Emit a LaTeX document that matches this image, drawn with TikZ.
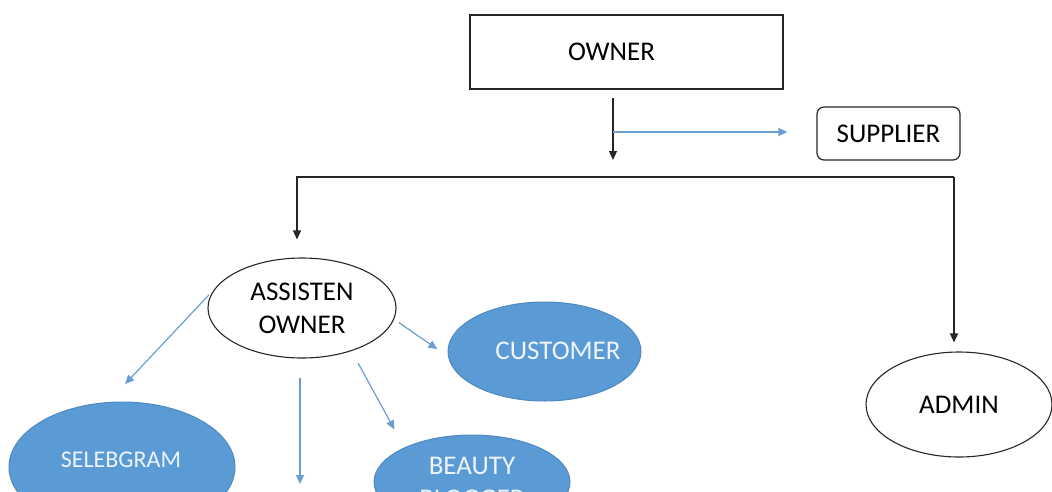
\documentclass[tikz,border=0pt]{standalone}
\usepackage{fontspec}
\setmainfont{Carlito}
\usetikzlibrary{arrows.meta,shapes.geometric}
\definecolor{obl}{HTML}{5B9BD5}
\definecolor{obord}{HTML}{4F89BF}
\definecolor{oline}{HTML}{6A9ED3}
\definecolor{otxt}{HTML}{EEF4FB}
\begin{document}
\begin{tikzpicture}[x=1pt,y=-1pt,
  txt/.style={font=\fontsize{27}{33}\selectfont, align=center, inner sep=0pt},
  ownerbox/.style={txt, draw=black!85, line width=1.2pt, minimum width=313pt, minimum height=74pt},
  supbox/.style={txt, draw=black!85, line width=1.2pt, rounded corners=7pt, minimum width=143pt, minimum height=53pt},
  whiteell/.style={txt, ellipse, draw=black!85, line width=1.1pt},
  blueell/.style={txt, ellipse, fill=obl, draw=obord, line width=1pt, text=otxt},
  btext/.style={inner sep=0pt, text=otxt},
  blackarrow/.style={draw=black!85, line width=1.2pt, -{Triangle[length=9pt,width=8pt]}},
  bluearrow/.style={draw=oline, line width=1.2pt, -{Triangle[length=9pt,width=8pt]}}]
\useasboundingbox (0,0) rectangle (1052,491);
\clip (0,0) rectangle (1052,491);

% nodes
\node[ownerbox] (owner) at (626.5,52) {OWNER\hspace{30pt}};
\node[supbox] (supplier) at (888.5,133.5) {SUPPLIER};
\node[whiteell, minimum width=188pt, minimum height=100pt] (assist) at (302,308) {ASSISTEN\\OWNER};
\node[blueell, minimum width=193pt, minimum height=99pt] (customer) at (544.5,351.5) {};
\node[btext, font=\fontsize{27}{33}\selectfont] (customertxt) at (558,351) {CUSTOMER};
\node[whiteell, minimum width=186pt, minimum height=105pt] (admin) at (959,404.5) {ADMIN};
\node[blueell, minimum width=226pt, minimum height=130pt] (selebgram) at (122,467) {};
\node[btext, font=\fontsize{24}{29}\selectfont] (selebtxt) at (121,460) {SELEBGRAM};
\node[blueell, minimum width=196pt, minimum height=94pt] (beauty) at (472,482) {BEAUTY\\BLOGGER};

% helper coordinates
\coordinate (split) at (613,160);
\coordinate (tee) at (613,132);
\coordinate (busL) at (297,177);
\coordinate (busR) at (954,177);
\coordinate (cut) at (300,484);

% black connectors
\draw[blackarrow, shorten <=8pt] (owner.south -| split) -- (split);
\draw[blackarrow, shorten >=18pt] (busR) -- (busL) -- (busL |- assist.north);
\draw[blackarrow, shorten >=9pt] (busR) -- (busR |- admin.north);

% blue connectors
\draw[bluearrow, shorten >=29pt] (tee) -- (tee -| supplier.west);
\draw[bluearrow, shorten <=5.6pt, shorten >=13pt] (assist.-7.5) -- (customer.183);
\draw[bluearrow, shorten <=13.8pt, shorten >=20.7pt] (assist.-41.7) -- (beauty.153.4);
\draw[bluearrow, shorten <=7.5pt, shorten >=24.6pt] (assist.168.7) -- (selebgram.102);
\draw[bluearrow, shorten <=19pt] (assist.south -| cut) -- (cut);
\end{tikzpicture}
\end{document}
